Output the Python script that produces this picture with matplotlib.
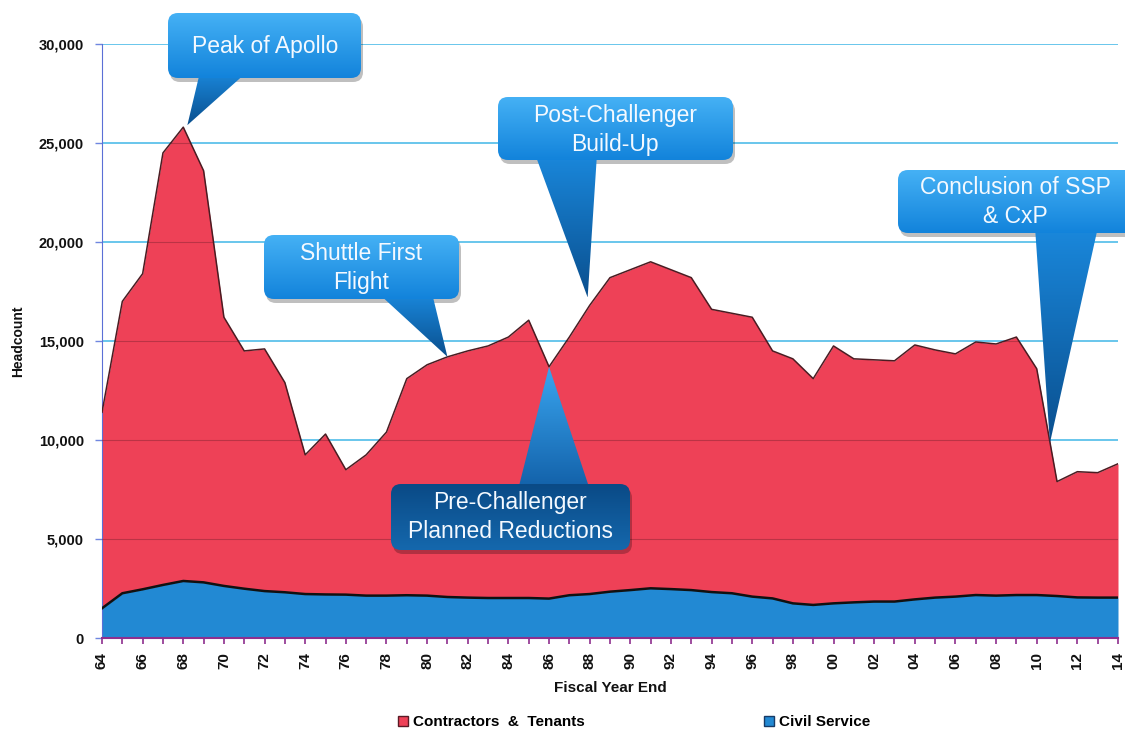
import numpy as np
import matplotlib
matplotlib.use('Agg')
import matplotlib.pyplot as plt
from matplotlib.patches import FancyBboxPatch, Polygon, Patch
from matplotlib.colors import LinearSegmentedColormap
from matplotlib.ticker import MultipleLocator, FuncFormatter

plt.rcParams['font.family'] = ['Liberation Sans', 'DejaVu Sans']
plt.rcParams['font.weight'] = 'bold'

# headcount by fiscal year
years = list(range(1964, 2015))
total = [11400, 17000, 18400, 24500, 25800, 23600, 16200, 14500, 14600, 12900,
         9250, 10300, 8500, 9250, 10400, 13100, 13800, 14200, 14500, 14750,
         15200, 16050, 13700, 15200, 16800, 18200, 18600, 19000, 18600, 18200,
         16600, 16400, 16200, 14500, 14100, 13100, 14750, 14100, 14050, 14000,
         14800, 14550, 14350, 14950, 14850, 15200, 13600, 7900, 8400, 8350,
         8800]
civil = [1500, 2260, 2460, 2680, 2880, 2810, 2630, 2490, 2370, 2310,
         2220, 2200, 2190, 2140, 2140, 2160, 2140, 2070, 2040, 2020,
         2020, 2020, 1990, 2160, 2220, 2340, 2420, 2510, 2470, 2420,
         2320, 2260, 2090, 2000, 1750, 1670, 1750, 1800, 1840, 1840,
         1950, 2040, 2090, 2170, 2140, 2170, 2170, 2120, 2050, 2040,
         2040]
contractors = [t - c for t, c in zip(total, civil)]
series_names = ['Contractors  &  Tenants', 'Civil Service']

W, H = 1125, 734
red = '#EE4157'
blue = '#2289D3'

fig = plt.figure(figsize=(W / 100, H / 100), dpi=100)
ax = fig.add_axes([102 / W, 96 / H, 1016 / W, 594 / H])

base = np.array(civil)
top = base + np.array(contractors)

for y in range(5000, 30001, 5000):
    ax.axhline(y, color='#5DC1EA', lw=1.3, zorder=0)
red_area = ax.fill_between(years, base, top, color=red, lw=0, zorder=2)
ax.fill_between(years, 0, base, color=blue, lw=0, zorder=2)
for y in range(5000, 30000, 5000):
    ln = ax.axhline(y, color='#9a2a3a', lw=0.8, alpha=0.6, zorder=3)
    ln.set_clip_path(red_area.get_paths()[0], ax.transData)
ax.plot(years, top, color='#4a1c22', lw=1.1, zorder=4)
ax.plot(years, base, color='#111111', lw=1.8, zorder=4)

ax.set_xlim(1964, 2014)
ax.set_ylim(0, 30000)
ax.xaxis.set_major_locator(MultipleLocator(2))
ax.xaxis.set_minor_locator(MultipleLocator(1))
ax.xaxis.set_major_formatter(FuncFormatter(lambda v, p: '%02d' % (int(round(v)) % 100)))
ax.yaxis.set_major_locator(MultipleLocator(5000))
ax.yaxis.set_major_formatter(FuncFormatter(lambda v, p: '{:,.0f}'.format(v)))
ax.tick_params(axis='x', which='both', length=4, width=1.2, color='#8e2f8e',
               labelrotation=90, labelsize=11, pad=6, labelcolor='#111111')
ax.tick_params(axis='y', length=5, width=1, color='#6f86e0', labelsize=10.5,
               pad=8, labelcolor='#111111')
for s in ['top', 'right']:
    ax.spines[s].set_visible(False)
ax.spines['left'].set_color('#5b6fd6')
ax.spines['bottom'].set_color('#8e2f8e')
ax.spines['bottom'].set_linewidth(1.5)
ax.set_xlabel('Fiscal Year End', fontsize=11, fontweight='bold', labelpad=9, color='#111111')
ax.set_ylabel('Headcount', fontsize=10, fontweight='bold', labelpad=10, color='#111111')

handles = [Patch(facecolor=red, edgecolor='#5a1a25', lw=1),
           Patch(facecolor=blue, edgecolor='#173a66', lw=1)]
fig.legend(handles, series_names, loc='center', bbox_to_anchor=(0.5636, 0.0163),
           ncol=2, frameon=False, fontsize=11, handlelength=0.65, handleheight=0.65,
           handletextpad=0.35, columnspacing=11.7)

# callouts drawn on a pixel overlay
ov = fig.add_axes([0, 0, 1, 1], zorder=10)
ov.patch.set_alpha(0)


def to_px(x, y):
    px, py = ax.transData.transform((x, y))
    return px, H - py


def gradient(x0, x1, ya, yb, colors, clip, z):
    cmap = LinearSegmentedColormap.from_list('g', colors)
    grad = np.linspace(0, 1, 256).reshape(-1, 1)
    im = ov.imshow(grad, cmap=cmap, extent=(x0, x1, yb, ya), origin='upper',
                   aspect='auto', zorder=z, interpolation='bilinear')
    im.set_clip_path(clip)


def callout(text, box, base_x, tip, center, dark=False):
    x0, y0, x1, y1 = box
    tx, ty = to_px(*tip)
    down = ty > y1
    by = y1 - 6 if down else y0 + 6
    tail_pts = [(base_x[0], by), (base_x[1], by), (tx, ty)]
    ov.add_patch(FancyBboxPatch((x0 + 2, y0 + 4), x1 - x0, y1 - y0,
                                boxstyle='round,pad=0,rounding_size=10',
                                fc='black', ec='none', alpha=0.25, zorder=1))
    tail = Polygon(tail_pts, closed=True, fc='none', ec='none')
    ov.add_patch(tail)
    if dark:
        box_cols = ['#0a4a86', '#1568ad']
        tail_cols = ['#3aa6f0', '#1260a8']
    else:
        box_cols = ['#45b1f5', '#1283db']
        tail_cols = ['#1a88dc', '#0a4f8e']
    ya, yb = min(by, ty), max(by, ty)
    gradient(min(base_x[0], tx), max(base_x[1], tx), ya, yb, tail_cols, tail, 2)
    bx = FancyBboxPatch((x0, y0), x1 - x0, y1 - y0,
                        boxstyle='round,pad=0,rounding_size=10', fc='none', ec='none')
    ov.add_patch(bx)
    gradient(x0, x1, y0, y1, box_cols, bx, 3)
    ov.text(center[0], center[1], text, ha='center', va='center', color='#f4f9ff',
            fontsize=16.5, fontweight='normal', linespacing=1.3, zorder=4)


callout('Peak of Apollo', (168, 13, 361, 78), (200, 247), (1968.2, 25900), (265, 46))
callout('Shuttle First\nFlight', (264, 235, 459, 299), (378, 432), (1981, 14200), (361, 268))
callout('Post-Challenger\nBuild-Up', (498, 97, 733, 160), (535, 597), (1987.9, 17200), (615, 130))
callout('Pre-Challenger\nPlanned Reductions', (391, 484, 630, 550), (518, 590), (1986, 13700),
        (510, 517), dark=True)
callout('Conclusion of SSP\n& CxP', (898, 170, 1145, 233), (1035, 1098), (2010.65, 9850),
        (1015, 202))

ov.set_xlim(0, W)
ov.set_ylim(H, 0)
ov.axis('off')

fig.savefig('out.png', dpi=100, facecolor='white')
